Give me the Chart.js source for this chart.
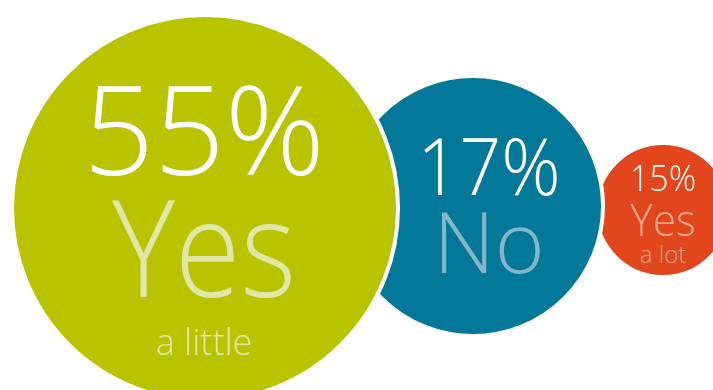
<!DOCTYPE html>
<html>
<head>
<meta charset="utf-8">
<script src="https://cdn.jsdelivr.net/npm/chart.js@4.4.1/dist/chart.umd.min.js"></script>
<style>
  html, body { margin: 0; padding: 0; background: #fff; }
  #wrap { width: 713px; height: 390px; position: relative; }
</style>
</head>
<body>
<div id="wrap"><canvas id="js-bubbleChart"></canvas></div>
<script>
// answers
var answers = ['Yes', 'No', 'Yes'];
var qualifiers = ['a little', '', 'a lot'];
var percents = [55, 17, 15];

// bubble placement on the 0-713 / 0-390 grid, and bubble radius
var xPos = [205, 473, 663];
var yPos = [208, 206, 210];
var radius = [193, 130, 67];

var fills = ['#b9c400', '#037898', '#e1461c'];
var wordColors = ['#e1e7a9', '#83b6c9', '#f3a88a'];

// text layout per bubble: horizontal shift, then [baseline offset, font size, x squeeze] per line
var textStyle = [
    { dx: -1, pct: [-33, 124, 1], word: [89, 134, 0.89], sub: [147, 36, 1] },
    { dx: 16, pct: [-11, 80, 0.92], word: [67, 85, 1], sub: [0, 0, 1] },
    { dx: 0, pct: [-19, 37, 0.92], word: [26, 45, 0.94], sub: [53, 24, 1] }
];

var FONT = '"Open Sans", "Noto Sans", sans-serif';

function drawLine(c, text, x, y, spec) {
    c.save();
    c.font = '300 ' + spec[1] + 'px ' + FONT;
    c.translate(x, y + spec[0]);
    c.scale(spec[2], 1);
    c.fillText(text, 0, 0);
    c.restore();
}

var bubbleLabels = {
    id: 'bubbleLabels',
    afterDatasetsDraw: function (chart) {
        var c = chart.ctx;
        c.save();
        c.textAlign = 'center';
        c.textBaseline = 'alphabetic';
        chart.data.datasets.forEach(function (ds, i) {
            var pt = chart.getDatasetMeta(i).data[0];
            var s = textStyle[i];
            var x = pt.x + s.dx;
            c.fillStyle = '#ffffff';
            drawLine(c, percents[i] + '%', x, pt.y, s.pct);
            c.fillStyle = wordColors[i];
            drawLine(c, answers[i], x, pt.y, s.word);
            if (qualifiers[i]) {
                drawLine(c, qualifiers[i], x, pt.y, s.sub);
            }
        });
        c.restore();
    }
};

// first dataset ends up on top, so the big bubble overlaps the others
var datasets = percents.map(function (p, i) {
    return {
        label: answers[i] + (qualifiers[i] ? ' ' + qualifiers[i] : ''),
        data: [{ x: xPos[i], y: yPos[i], r: radius[i] }],
        backgroundColor: fills[i],
        borderColor: '#ffffff',
        borderWidth: 4,
        hoverBorderWidth: 4,
        clip: false
    };
});

var ctx = document.getElementById('js-bubbleChart').getContext('2d');
var myChart = new Chart(ctx, {
    type: 'bubble',
    data: { datasets: datasets },
    options: {
        responsive: true,
        maintainAspectRatio: false,
        animation: false,
        layout: { padding: 0, autoPadding: false },
        plugins: {
            legend: { display: false },
            tooltip: { enabled: false }
        },
        scales: {
            x: { type: 'linear', min: 0, max: 713, display: false },
            y: { type: 'linear', min: 0, max: 390, reverse: true, display: false }
        }
    },
    plugins: [bubbleLabels]
});
</script>
</body>
</html>
